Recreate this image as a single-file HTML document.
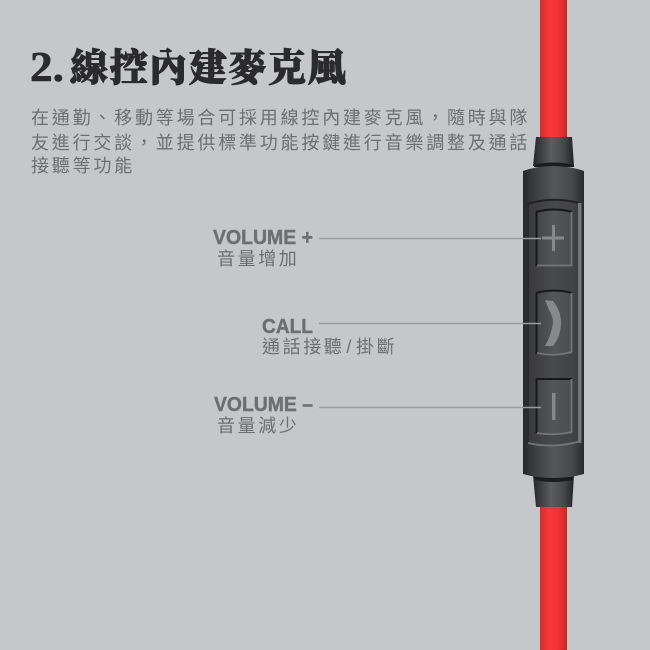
<!DOCTYPE html>
<html>
<head>
<meta charset="utf-8">
<style>
html,body{margin:0;padding:0;background:#c6c7cb;}
svg{display:block;}
.t{font-family:"Liberation Sans","Noto Sans CJK TC",sans-serif;fill:#6d6e71;}
.h{font-family:"Liberation Sans",sans-serif;font-weight:700;fill:#6d6e71;stroke:#6d6e71;stroke-width:.4;}
</style>
</head>
<body>
<svg width="650" height="650" viewBox="0 0 650 650" xmlns="http://www.w3.org/2000/svg">
<defs>
<linearGradient id="cable" x1="0" x2="1" y1="0" y2="0">
<stop offset="0" stop-color="#d92b2b"/><stop offset=".35" stop-color="#f8393a"/><stop offset=".7" stop-color="#f03232"/><stop offset="1" stop-color="#c92424"/>
</linearGradient>
<linearGradient id="body" x1="0" x2="1" y1="0" y2="0">
<stop offset="0" stop-color="#27272a"/><stop offset=".15" stop-color="#38393b"/><stop offset=".5" stop-color="#555659"/><stop offset=".8" stop-color="#48494b"/><stop offset="1" stop-color="#29292b"/>
</linearGradient>
<linearGradient id="collar" x1="0" x2="1" y1="0" y2="0">
<stop offset="0" stop-color="#27272a"/><stop offset=".45" stop-color="#5c5d60"/><stop offset=".75" stop-color="#47484a"/><stop offset="1" stop-color="#232325"/>
</linearGradient>
<linearGradient id="btn" x1="0" x2="1" y1="0" y2="0">
<stop offset="0" stop-color="#444547"/><stop offset=".5" stop-color="#545558"/><stop offset="1" stop-color="#4c4d50"/>
</linearGradient>
</defs>

<rect width="650" height="650" fill="#c6c7cb"/>

<!-- cable -->
<rect x="540" y="0" width="27" height="650" fill="url(#cable)"/>

<!-- top collar -->
<path d="M536 137H572L574 166H533Z" fill="url(#collar)"/>
<path d="M534 165Q553 160 574 165V167H534Z" fill="#1c1c1e"/>
<!-- bottom collar -->
<path d="M533 475H574L572 507H536Z" fill="url(#collar)"/>
<path d="M534 477H573V480Q553 484 535 480Z" fill="#1c1c1e"/>

<!-- body -->
<path d="M523 171Q537 166 553 166Q570 166 584 171V474Q570 478 553 478Q537 478 523 474Z" fill="url(#body)"/>
<!-- panel -->
<path d="M527 204Q553 196 579 203V441Q553 449 527 443Z" fill="#3f4043" opacity=".55"/>
<path d="M527 204Q553 196 579 203" fill="none" stroke="#222224" stroke-width="2"/>
<rect x="527" y="204" width="2" height="240" fill="#2a2a2c"/>
<rect x="578" y="203" width="3.500" height="240" fill="#747578"/>
<path d="M528 443Q553 449 581 441" fill="none" stroke="#747578" stroke-width="1.800"/>

<!-- plus button -->
<rect x="536" y="211" width="36" height="55" fill="url(#btn)"/>
<path d="M536 212Q554 207 572 212" fill="none" stroke="#18181a" stroke-width="2"/>
<path d="M536.500 212V266" stroke="#18181a" stroke-width="2" fill="none"/>
<path d="M537 265.500H571.500V212" stroke="#747578" stroke-width="1.800" fill="none"/>
<path d="M542 238H564M553.500 225V251" stroke="#87888b" stroke-width="3" fill="none"/>

<!-- call button -->
<rect x="536" y="292" width="36" height="62" fill="url(#btn)"/>
<path d="M536 293Q554 288 572 293" fill="none" stroke="#18181a" stroke-width="2"/>
<path d="M536.500 293V354" stroke="#18181a" stroke-width="2" fill="none"/>
<path d="M537 353Q554 357 571.500 352V293" stroke="#747578" stroke-width="1.800" fill="none"/>
<path d="M545 300L553 301Q561 311 561 323Q561 336 553 346L545 346Q551 336 553 323Q553 316 549 310Z" fill="#87888b"/>

<!-- minus button -->
<rect x="536" y="379" width="36" height="55" fill="url(#btn)"/>
<path d="M536 379H572" fill="none" stroke="#18181a" stroke-width="2"/>
<path d="M536.500 379V433" stroke="#18181a" stroke-width="2" fill="none"/>
<path d="M537 433Q554 436 571.500 432V379" stroke="#747578" stroke-width="1.800" fill="none"/>
<rect x="552" y="393" width="3.500" height="27" fill="#87888b"/>

<!-- leader lines -->
<path d="M319 238.500H541M319 323.500H541M319 407.500H541" stroke="#9a9b9e" stroke-width="1.500" fill="none"/>

<!-- title -->
<text x="30" y="81" font-family="'Liberation Serif',serif" font-weight="700" font-size="42" fill="#2b2b2d" stroke="#2b2b2d" stroke-width=".6" textLength="34" lengthAdjust="spacingAndGlyphs">2.</text>
<text x="70" y="81" font-family="'Liberation Serif','Noto Serif CJK TC','Noto Serif CJK SC',serif" font-weight="900" font-size="38" letter-spacing="1.600" fill="#2b2b2d" stroke="#2b2b2d" stroke-width="1">線控內建麥克風</text>

<!-- paragraph -->
<text class="t" x="31" y="124" font-size="18" letter-spacing="2.800">在通勤、移動等場合可採用線控內建麥克風，隨時與隊</text>
<text class="t" x="31" y="149" font-size="18" letter-spacing="2.800">友進行交談，並提供標準功能按鍵進行音樂調整及通話</text>
<text class="t" x="31" y="172" font-size="18" letter-spacing="2.800">接聽等功能</text>

<!-- labels -->
<text class="h" x="213" y="244" font-size="20" textLength="100" lengthAdjust="spacingAndGlyphs">VOLUME +</text>
<text class="t" x="217" y="265" font-size="18" letter-spacing="2.600">音量增加</text>

<text class="h" x="262" y="333" font-size="20" textLength="51" lengthAdjust="spacingAndGlyphs">CALL</text>
<text class="t" x="262" y="353" font-size="18" letter-spacing="2.600">通話接聽<tspan dx="2">/</tspan><tspan dx="2">掛斷</tspan></text>

<text class="h" x="214" y="411" font-size="20" textLength="99" lengthAdjust="spacingAndGlyphs">VOLUME –</text>
<text class="t" x="217" y="432" font-size="18" letter-spacing="2.600">音量減少</text>
</svg>
</body>
</html>
